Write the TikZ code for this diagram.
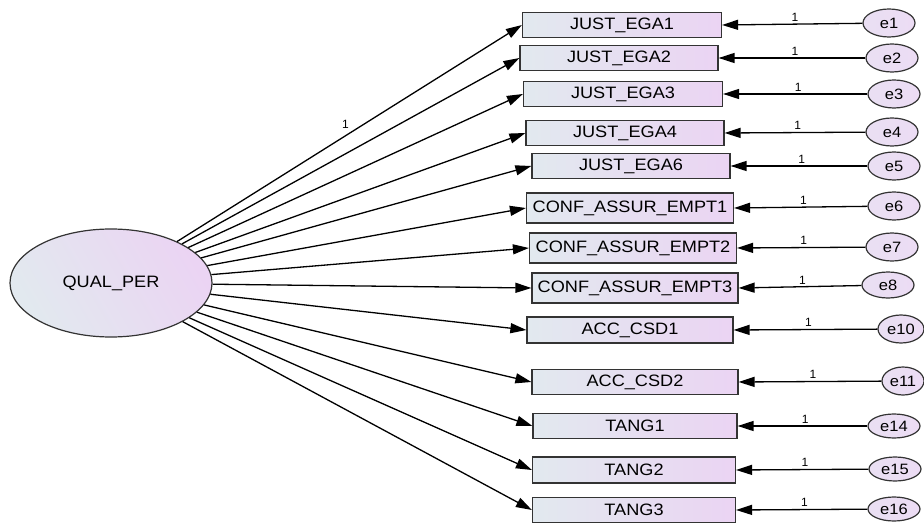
\documentclass[tikz,border=0pt]{standalone}
\usepackage{fontspec}
\setmainfont{Liberation Sans}
\usetikzlibrary{arrows.meta,shapes.geometric}
\definecolor{lb}{RGB}{226,233,239}
\definecolor{lp}{RGB}{235,212,243}
\definecolor{ep}{RGB}{236,220,244}
\newcommand\sx[1]{\scalebox{1.1}[1]{#1}}
\begin{document}
\begin{tikzpicture}[x=1pt,y=-1pt,
  obs/.style={draw=black!80, line width=1.2pt, left color=lb, right color=lp, inner sep=0pt,
     font=\fontsize{16.5}{17}\selectfont},
  lat/.style={ellipse, draw=black!80, line width=1.2pt, left color=lb, right color=lp, shading angle=120,
     minimum width=202pt, minimum height=108pt, inner sep=0pt, font=\fontsize{16.5}{17}\selectfont},
  err/.style={ellipse, draw=black!80, line width=1.2pt, left color=ep!75!lb, right color=ep, inner sep=0pt,
     minimum width=52pt, minimum height=28pt, font=\fontsize{15}{15}\selectfont},
  arr/.style={draw=black, line width=1.3pt, -{Triangle[length=16pt,width=10pt]}},
  one/.style={font=\fontsize{12}{12}\selectfont, inner sep=1pt}
]
\useasboundingbox (0,0) rectangle (924,524);
\node[lat] (q) at (111,283) {\sx{QUAL\_PER}};

\node[obs, minimum width=199pt, minimum height=25pt] (b1) at (622,25) {\sx{JUST\_EGA1}};
\node[obs, minimum width=198pt, minimum height=25pt] (b2) at (619,58) {\sx{JUST\_EGA2}};
\node[obs, minimum width=199pt, minimum height=25pt] (b3) at (623,94) {\sx{JUST\_EGA3}};
\node[obs, minimum width=198pt, minimum height=25pt] (b4) at (625,133) {\sx{JUST\_EGA4}};
\node[obs, minimum width=198pt, minimum height=25pt] (b5) at (631,166) {\sx{JUST\_EGA6}};
\node[obs, minimum width=207pt, minimum height=30pt] (b6) at (630,208) {\sx{CONF\_ASSUR\_EMPT1}};
\node[obs, minimum width=207pt, minimum height=30pt] (b7) at (633,248) {\sx{CONF\_ASSUR\_EMPT2}};
\node[obs, minimum width=206pt, minimum height=30pt] (b8) at (635,288) {\sx{CONF\_ASSUR\_EMPT3}};
\node[obs, minimum width=206pt, minimum height=26pt] (b9) at (630,330) {\sx{ACC\_CSD1}};
\node[obs, minimum width=206pt, minimum height=25pt] (b10) at (635,382) {\sx{ACC\_CSD2}};
\node[obs, minimum width=204pt, minimum height=25pt] (b11) at (635,426) {\sx{TANG1}};
\node[obs, minimum width=203pt, minimum height=26pt] (b12) at (634,470) {\sx{TANG2}};
\node[obs, minimum width=203pt, minimum height=25pt] (b13) at (634,510) {\sx{TANG3}};

\node[err] (e1) at (889,23) {\sx{e1}};
\node[err] (e2) at (892,58) {\sx{e2}};
\node[err] (e3) at (894,94) {\sx{e3}};
\node[err] (e4) at (892,132) {\sx{e4}};
\node[err] (e5) at (894,166) {\sx{e5}};
\node[err] (e6) at (894,206) {\sx{e6}};
\node[err] (e7) at (892,247) {\sx{e7}};
\node[err, minimum height=26pt] (e8) at (888,285) {\sx{e8}};
\node[err, minimum width=46pt] (e10) at (901,329) {\sx{e10}};
\node[err, minimum width=42pt] (e11) at (903,381) {\sx{e11}};
\node[err, minimum height=24pt] (e14) at (894,426) {\sx{e14}};
\node[err, minimum height=24pt] (e15) at (895,469) {\sx{e15}};
\node[err, minimum height=24pt] (e16) at (894,509) {\sx{e16}};

\draw[arr] (q) -- node[one, pos=0.5, above=3pt, xshift=-4pt] {1} (b1.west);
\foreach \b in {b2,b3,b4,b5,b6,b7,b8,b9,b10,b11,b12,b13}
  \draw[arr] (q) -- (\b.west);

\foreach \e/\b in {e1/b1,e2/b2,e3/b3,e4/b4,e5/b5,e6/b6,e7/b7,e8/b8,e10/b9,e11/b10,e14/b11,e15/b12,e16/b13}
  \draw[arr] (\e) -- node[one, pos=0.48, above=1pt] {1} (\b.east);
\end{tikzpicture}
\end{document}
